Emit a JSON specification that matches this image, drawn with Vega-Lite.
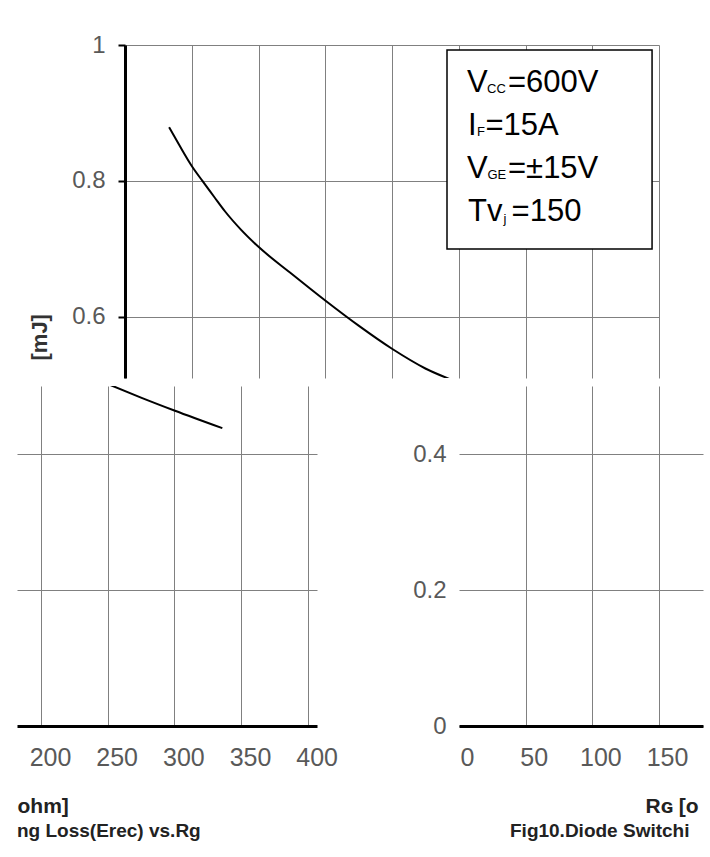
{
  "$schema": "https://vega.github.io/schema/vega-lite/v6.json",
  "padding": {"left": 14, "top": 33, "right": 0, "bottom": 0},
  "autosize": {"type": "pad"},
  "background": "white",
  "config": {
    "view": {"stroke": null},
    "font": "Liberation Sans",
    "axis": {
      "gridColor": "#808080",
      "gridWidth": 1,
      "gridOpacity": 1,
      "labelFont": "Liberation Sans",
      "labelColor": "#595959",
      "labelFlush": false,
      "labelOverlap": false,
      "labelBound": false,
      "domainColor": "black",
      "tickColor": "black"
    }
  },
  "datasets": {
    "curve": [
      {"rg": 33, "e": 0.879},
      {"rg": 40, "e": 0.855},
      {"rg": 50, "e": 0.822},
      {"rg": 58, "e": 0.8},
      {"rg": 67, "e": 0.776},
      {"rg": 75, "e": 0.755},
      {"rg": 87, "e": 0.728},
      {"rg": 100, "e": 0.703},
      {"rg": 125, "e": 0.663},
      {"rg": 150, "e": 0.624},
      {"rg": 175, "e": 0.587},
      {"rg": 200, "e": 0.553},
      {"rg": 225, "e": 0.524},
      {"rg": 250, "e": 0.503},
      {"rg": 275, "e": 0.483},
      {"rg": 300, "e": 0.464},
      {"rg": 336, "e": 0.438}
    ],
    "box": [{"x1": 241.2, "x2": 394.8, "y1": 0.9926, "y2": 0.7}],
    "main": [
      {"tx": 256.2, "ty": 0.9313, "label": "V"},
      {"tx": 286.9, "ty": 0.9313, "label": "=600V"},
      {"tx": 256.9, "ty": 0.8676, "label": "I"},
      {"tx": 270.0, "ty": 0.8676, "label": "=15A"},
      {"tx": 256.2, "ty": 0.804, "label": "V"},
      {"tx": 286.9, "ty": 0.804, "label": "=±15V"},
      {"tx": 256.9, "ty": 0.7412, "label": "Tv"},
      {"tx": 289.6, "ty": 0.7412, "label": "=150"}
    ],
    "sub": [
      {"tx": 271.2, "ty": 0.929, "label": "CC"},
      {"tx": 263.6, "ty": 0.8666, "label": "F"},
      {"tx": 271.5, "ty": 0.803, "label": "GE"},
      {"tx": 283.6, "ty": 0.738, "label": "j"}
    ]
  },
  "spacing": 8,
  "vconcat": [
    {
      "bounds": "flush",
      "spacing": 107,
      "hconcat": [
        {
          "width": 1,
          "height": 333,
          "data": {"values": [{}]},
          "mark": {"type": "point", "opacity": 0},
          "encoding": {}
        },
        {
          "width": 534,
          "height": 333,
          "layer": [
            {
              "data": {"name": "curve"},
              "mark": {"type": "line", "color": "black", "strokeWidth": 2, "clip": true, "interpolate": "monotone"},
              "encoding": {
                "x": {
                  "field": "rg", "type": "quantitative",
                  "scale": {"domain": [0, 400], "nice": false, "zero": false},
                  "axis": {"values": [0, 50, 100, 150, 200, 250, 300, 350, 400], "grid": true, "labels": false, "ticks": false, "domain": false, "title": null}
                },
                "y": {
                  "field": "e", "type": "quantitative",
                  "scale": {"domain": [0.51, 1], "nice": false, "zero": false},
                  "axis": {
                    "values": [0.6, 0.8, 1], "format": "~g", "grid": true,
                    "domainWidth": 3, "tickWidth": 2, "tickSize": 7,
                    "labelFontSize": 24, "labelPadding": 13,
                    "title": "[mJ]", "titleFontSize": 22, "titleFontWeight": "bold", "titleColor": "#333333",
                    "titleAngle": -90, "titleX": -86, "titleY": 315, "titleAlign": "left", "titleBaseline": "middle"
                  }
                }
              }
            },
            {
              "data": {"name": "box"},
              "mark": {"type": "rect", "fill": "white", "stroke": "black", "strokeWidth": 1.5},
              "encoding": {
                "x": {"field": "x1", "type": "quantitative"},
                "x2": {"field": "x2"},
                "y": {"field": "y1", "type": "quantitative"},
                "y2": {"field": "y2"}
              }
            },
            {
              "data": {"name": "main"},
              "mark": {"type": "text", "align": "left", "baseline": "alphabetic", "fontSize": 31, "font": "Liberation Sans", "color": "black"},
              "encoding": {
                "x": {"field": "tx", "type": "quantitative"},
                "y": {"field": "ty", "type": "quantitative"},
                "text": {"field": "label"}
              }
            },
            {
              "data": {"name": "sub"},
              "mark": {"type": "text", "align": "left", "baseline": "alphabetic", "fontSize": 13, "font": "Liberation Sans", "color": "black"},
              "encoding": {
                "x": {"field": "tx", "type": "quantitative"},
                "y": {"field": "ty", "type": "quantitative"},
                "text": {"field": "label"}
              }
            }
          ]
        }
      ]
    },
    {
      "bounds": "flush",
      "spacing": 142,
      "hconcat": [
        {
          "width": 300,
          "height": 340,
          "data": {"name": "curve"},
          "title": {"text": "ng Loss(Erec) vs.Rg", "orient": "bottom", "anchor": "start", "frame": "group", "fontSize": 19, "fontWeight": "bold", "color": "#222222", "font": "Liberation Sans", "offset": 6},
          "mark": {"type": "line", "color": "black", "strokeWidth": 2, "clip": true, "interpolate": "monotone"},
          "encoding": {
            "x": {
              "field": "rg", "type": "quantitative",
              "scale": {"domain": [182, 407], "nice": false, "zero": false},
              "axis": {
                "values": [200, 250, 300, 350, 400], "grid": true, "ticks": false,
                "domainWidth": 3, "labelFontSize": 25, "labelPadding": 19, "labelOffset": 9,
                "title": "ohm]", "titleFontSize": 21, "titleFontWeight": "bold", "titleColor": "#222222",
                "titleX": 0, "titleY": 80, "titleAlign": "left", "titleBaseline": "middle"
              }
            },
            "y": {
              "field": "e", "type": "quantitative",
              "scale": {"domain": [0, 0.5], "nice": false},
              "axis": {"values": [0.2, 0.4], "grid": true, "labels": false, "ticks": false, "domain": false, "title": null}
            }
          }
        },
        {
          "width": 244,
          "height": 340,
          "data": {"name": "curve"},
          "title": {"text": "Fig10.Diode Switchi", "orient": "bottom", "anchor": "start", "frame": "group", "dx": 51, "fontSize": 19, "fontWeight": "bold", "color": "#222222", "font": "Liberation Sans", "offset": 6},
          "mark": {"type": "line", "color": "black", "strokeWidth": 2, "clip": true, "interpolate": "monotone"},
          "encoding": {
            "x": {
              "field": "rg", "type": "quantitative",
              "scale": {"domain": [0, 183], "nice": false, "zero": false},
              "axis": {
                "values": [0, 50, 100, 150], "grid": true, "ticks": false,
                "gridOpacity": {"condition": {"test": "datum.value === 0", "value": 0}, "value": 1},
                "domainWidth": 3, "labelFontSize": 25, "labelPadding": 19, "labelOffset": 8,
                "title": "R\u0262  [o", "titleFontSize": 21, "titleFontWeight": "bold", "titleColor": "#222222",
                "titleX": 186, "titleY": 80, "titleAlign": "left", "titleBaseline": "middle"
              }
            },
            "y": {
              "field": "e", "type": "quantitative",
              "scale": {"domain": [0, 0.5], "nice": false},
              "axis": {"values": [0, 0.2, 0.4], "format": "~g", "grid": true, "ticks": false, "domain": false, "labelFontSize": 24, "labelPadding": 13, "title": null}
            }
          }
        }
      ]
    }
  ]
}
